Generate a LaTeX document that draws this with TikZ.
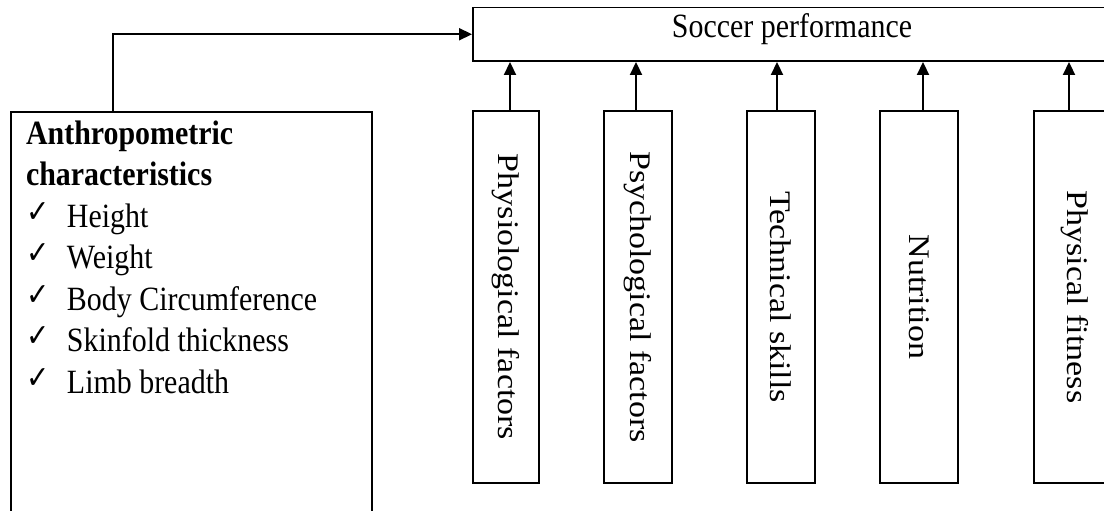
\documentclass[tikz,border=0pt]{standalone}
\usepackage{fontspec}
\setmainfont{Liberation Serif}
\newfontfamily\dvsfont{DejaVu Sans}
\usetikzlibrary{arrows.meta}

\newcommand{\chkmark}{\makebox[0.93cm][l]{\raisebox{2.8pt}{\dvsfont\fontsize{18}{18}\selectfont ✓}}}

\begin{document}
\begin{tikzpicture}[
    box/.style={draw, line width=1.1pt, inner sep=0pt},
    factor/.style={box, txt, minimum height=7.44cm},
    txt/.style={font=\fontsize{19.35}{23.6}\selectfont},
    arr/.style={line width=1.1pt, -{Triangle[length=0.26cm, width=0.24cm]}}
]
    \useasboundingbox (0,0) rectangle (22.08,-10.22);
    \clip (0,0) rectangle (22.08,-10.22);

    \node[box, txt, minimum width=12.76cm, minimum height=1.07cm, text height=13pt, text depth=9pt] at (15.84,-0.685) (perf) {\scalebox{0.88}[1]{Soccer performance}};

    \node[box, minimum width=7.22cm, minimum height=7.99cm] at (3.83,-6.235) (anthro) {};
    \node[txt, anchor=north west, inner sep=0pt] at (0.514,-2.30) (anthrotext) {\scalebox{0.88}[1]{\begin{tabular}{@{}l@{}}
        \textbf{Anthropometric} \\
        \textbf{characteristics} \\
        \chkmark Height \\
        \chkmark Weight \\
        \chkmark Body Circumference \\
        \chkmark Skinfold thickness \\
        \chkmark Limb breadth
    \end{tabular}}};

    \node[factor, minimum width=1.32cm] at (10.12,-5.94) (physio) {\rotatebox{-90}{\scalebox{1}[0.88]{Physiological factors}}};
    \node[factor, minimum width=1.36cm] at (12.76,-5.94) (psycho) {\rotatebox{-90}{\scalebox{1}[0.88]{Psychological factors}}};
    \node[factor, minimum width=1.36cm] at (15.62,-5.94) (tech) {\rotatebox{-90}{\scalebox{1}[0.88]{Technical skills}}};
    \node[factor, minimum width=1.56cm] at (18.38,-5.94) (nutri) {\rotatebox{-90}{\scalebox{1}[0.88]{Nutrition}}};
    \node[factor, minimum width=1.64cm] at (21.50,-5.94) (fitness) {\rotatebox{-90}{\scalebox{1}[0.88]{Physical fitness}}};

    \foreach \n/\dx in {physio/0.08, psycho/-0.04, tech/-0.08, nutri/0.08, fitness/-0.12}
        \draw[arr] ([xshift=\dx cm]\n.north) coordinate (\n top) -- (\n top |- perf.south);

    \draw[arr] ([xshift=2.06cm]anthro.north west) |- (perf.west);
\end{tikzpicture}
\end{document}
